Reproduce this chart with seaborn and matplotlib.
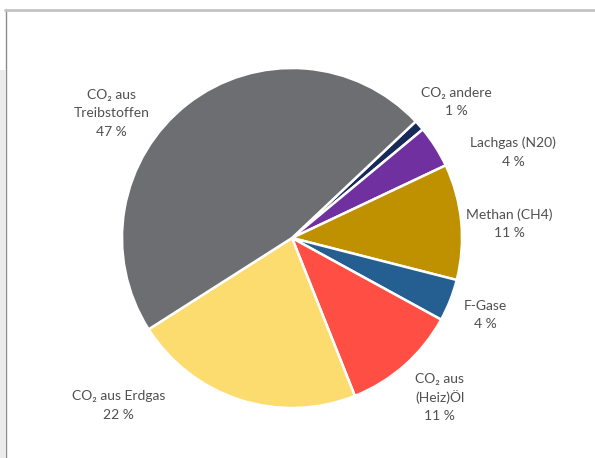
import matplotlib
matplotlib.use("Agg")
import matplotlib.pyplot as plt
from matplotlib.patches import Rectangle
from matplotlib.lines import Line2D
import seaborn as sns

# Emission shares (%), listed clockwise starting at the upper-right boundary
categories = ["CO₂ andere", "Lachgas (N20)", "Methan (CH4)", "F-Gase",
              "CO₂ aus\n(Heiz)Öl", "CO₂ aus Erdgas", "CO₂ aus\nTreibstoffen"]
shares = [1, 4, 11, 4, 11, 22, 47]
colors = ["#172a5a", "#7030a0", "#bf9000", "#255e91",
          "#ff4f45", "#fcdb6f", "#6d6e71"]

# Label anchor points in pie-radius units (centre of each text block)
label_pos = [(0.965, 0.806), (1.30, 0.51), (1.28, 0.088), (1.135, -0.447),
             (0.87, -0.93), (-1.02, -0.98), (-1.06, 0.74)]

sns.set_theme(style="white")
plt.rcParams["font.family"] = ["Lato", "DejaVu Sans"]

W, H, DPI = 595, 458, 100
fig = plt.figure(figsize=(W / DPI, H / DPI), dpi=DPI)
fig.patch.set_facecolor("white")

# Outer frame: grey strip on the left, border lines
fig.add_artist(Rectangle((0, 0), 5 / W, (H - 70) / H, transform=fig.transFigure,
                         facecolor="#ececec", edgecolor="none"))
fig.add_artist(Line2D([5.5 / W, 5.5 / W], [0, (H - 9) / H], transform=fig.transFigure,
                      color="#8c8c8c", lw=1.0))
fig.add_artist(Line2D([5 / W, 1], [(H - 9.5) / H, (H - 9.5) / H], transform=fig.transFigure,
                      color="#c4c4c4", lw=2.0))

R = 170.0
cx, cy = 292.0, 238.0
ax = fig.add_axes([0, 0, 1, 1])
ax.set_aspect("equal")
ax.axis("off")

start = 43.3
ax.pie(shares, colors=colors, startangle=start, counterclock=False, radius=1.0,
       wedgeprops=dict(edgecolor="white", linewidth=1.8))
ax.set_xlim(-cx / R, (W - cx) / R)
ax.set_ylim(-(H - cy) / R, cy / R)

line_step = 18.5 * 72 / DPI  # line pitch in points
for name, val, (x, y) in zip(categories, shares, label_pos):
    lines = name.split("\n") + [f"{val} %"]
    n = len(lines)
    for i, line in enumerate(lines):
        off = ((n - 1) / 2 - i) * line_step
        ax.annotate(line, (x, y), xytext=(0, off), textcoords="offset points",
                    ha="center", va="center_baseline", fontsize=10,
                    color="#505050")

fig.savefig("out.png", dpi=DPI)
